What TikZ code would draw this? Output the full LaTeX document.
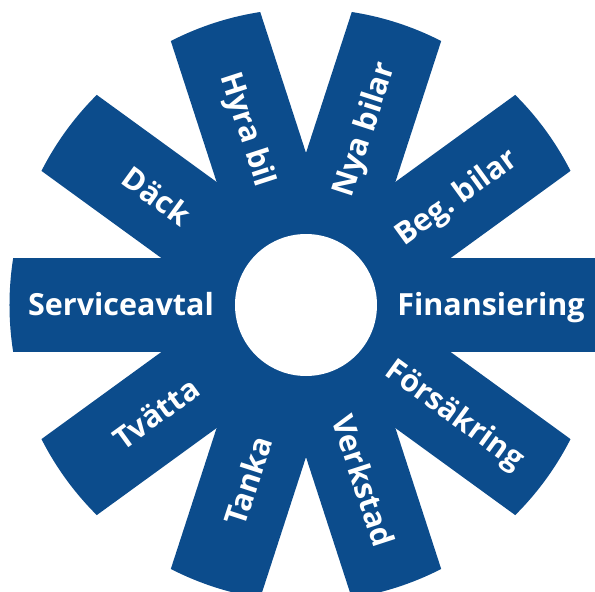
\documentclass[tikz,border=0pt]{standalone}
\usepackage{fontspec}
\setmainfont{Open Sans}
\definecolor{wheelblue}{HTML}{0C4C8C}

\begin{document}
\begin{tikzpicture}[
  x=1pt, y=1pt,
  spoke/.style={fill=wheelblue},
  spoketext/.style={
    text=white,
    font=\fontsize{30.5}{32}\selectfont\bfseries,
    inner sep=0pt,
    text height=21.5pt,
    text depth=0pt
  }
]
  \useasboundingbox (-306,-287) rectangle (289,305);

  % ten spokes, cut off by the outer rim
  \begin{scope}
    \clip (0,0) circle[radius=296.5pt];
    \foreach \a in {0,36,...,324}
      \fill[spoke, rotate=\a] (0,-47) rectangle (310,47);
  \end{scope}
  \fill[white] (0,0) circle[radius=71pt];

  % labels along the spokes
  \foreach \a/\r/\name/\txt in {
      0/0/fin/Finansiering,
      36/36/beg/Beg.\ bilar,
      72/72/nya/Nya bilar,
      108/-72/hyra/Hyra bil,
      144/-36/dack/Däck,
      180/0/serv/Serviceavtal,
      216/36/tvatta/Tvätta,
      252/72/tanka/Tanka,
      288/-72/verk/Verkstad,
      324/-36/fors/Försäkring}
    \node[spoketext, rotate=\r] (\name) at (\a:185) {\txt};
\end{tikzpicture}
\end{document}
